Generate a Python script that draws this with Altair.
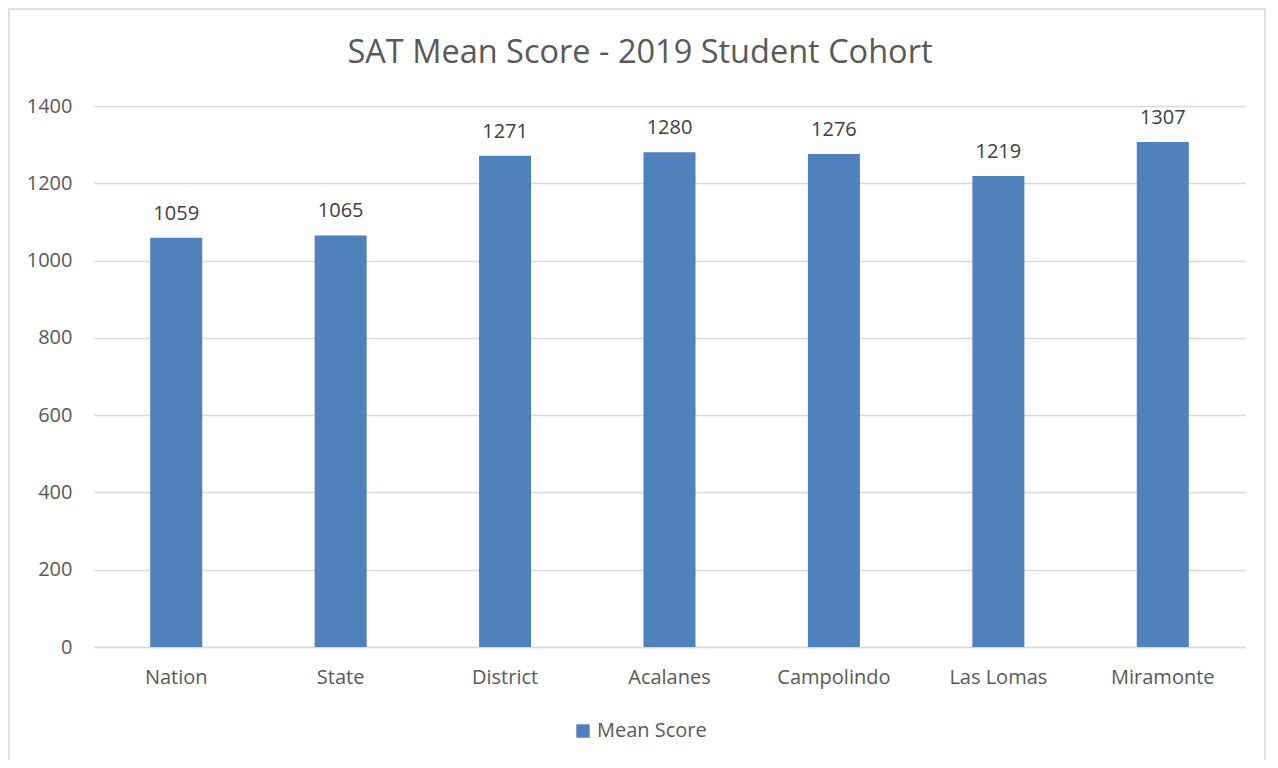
import altair as alt
import pandas as pd

categories = ["Nation", "State", "District", "Acalanes", "Campolindo", "Las Lomas", "Miramonte"]
scores = [1059, 1065, 1271, 1280, 1276, 1219, 1307]
series_name = "Mean Score"
y_ticks = [0, 200, 400, 600, 800, 1000, 1200, 1400]
title_text = "SAT Mean Score - 2019 Student Cohort"

df = pd.DataFrame({"category": categories, "score": scores, "series": [series_name] * len(categories)})

FONT = "Open Sans"
GRID = "#D9D9D9"
BAR = "#4F81BD"

x_enc = alt.X("category:N", sort=categories, title=None,
              scale=alt.Scale(paddingInner=0.684, paddingOuter=0.342),
              axis=alt.Axis(labelAngle=0, labelFontSize=20, labelColor="#595959", labelFont=FONT,
                            ticks=False, domainColor=GRID, domainWidth=1.5, labelPadding=20, grid=False))
y_enc = alt.Y("score:Q", title=None,
              scale=alt.Scale(domain=[0, 1400], nice=False),
              axis=alt.Axis(values=y_ticks, format="d", labelFontSize=20, labelColor="#595959",
                            labelFont=FONT, ticks=False, domain=False, gridColor=GRID, gridWidth=1.5,
                            labelPadding=22))

bars = alt.Chart(df).mark_bar(size=52).encode(
    x=x_enc, y=y_enc,
    color=alt.Color("series:N", title=None,
                    scale=alt.Scale(domain=[series_name], range=[BAR]),
                    legend=alt.Legend(orient="none", legendX=479, legendY=615, symbolType="square",
                                      symbolSize=180, labelFontSize=20, labelColor="#595959",
                                      labelFont=FONT, symbolStrokeWidth=0)),
)

labels = alt.Chart(df).mark_text(dy=-18, baseline="alphabetic", fontSize=20, font=FONT, color="#404040").encode(
    x=alt.X("category:N", sort=categories), y="score:Q", text="score:Q"
)

one = pd.DataFrame({"t": [title_text]})

border = alt.Chart(one).mark_rect(fill="white", fillOpacity=0, stroke=GRID, strokeWidth=1.5).encode(
    x=alt.value(-85), x2=alt.value(1171), y=alt.value(-97), y2=alt.value(720)
)

title = alt.Chart(one).mark_text(fontSize=32.5, font=FONT, color="#595959", baseline="alphabetic",
                                 align="center").encode(
    x=alt.value(546), y=alt.value(-43), text="t:N"
)

chart = alt.layer(border, bars, labels, title).properties(
    width=1151, height=541,
    autosize=alt.AutoSizeParams(type="none"),
    padding={"left": 86, "top": 98, "right": 21, "bottom": 113},
    background="white",
).configure_view(stroke=None)

chart.save("out.html", embed_options={"renderer": "svg", "actions": False})
